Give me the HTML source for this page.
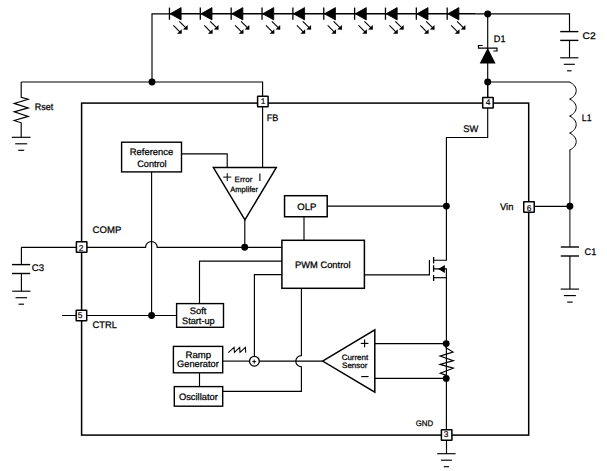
<!DOCTYPE html>
<html><head><meta charset="utf-8"><style>.f{fill:#000;stroke:none}
.pin{fill:#fff}
.pn{font-family:"Liberation Sans",sans-serif;font-size:8.4px;text-rendering:geometricPrecision;text-anchor:middle;fill:#000;stroke:#000;stroke-width:0.2px}
html,body{margin:0;padding:0;background:#fff;overflow:hidden}
svg{display:block}</style></head>
<body>
<svg width="607" height="471" viewBox="0 0 607 471">
<rect width="607" height="471" fill="#fff"/>
<g stroke="#000" stroke-width="1.15" fill="none" stroke-linecap="butt">
<!-- top LED wire -->
<polyline points="152,82 152,13.8 169.5,13.8" stroke="#000"/>
<line x1="169.5" y1="13.8" x2="475" y2="13.8" stroke-width="1.45" stroke="#000"/>
<polyline points="475,13.8 569.5,13.8 569.5,31.6"/>
<line x1="169.45" y1="7.6" x2="169.45" y2="19.8" stroke-width="1.3"/>
<polygon points="170.05,13.8 181.15,7.6 181.15,19.9" fill="#000" stroke="#000" stroke-width="0.8" stroke-linejoin="bevel"/>
<line x1="173.40" y1="25.4" x2="179.80" y2="31.80" stroke-width="1.1"/>
<polygon points="181.80,33.8 177.00,33.70 181.70,29.20" class="f"/>
<line x1="179.30" y1="21.4" x2="185.70" y2="27.70" stroke-width="1.1"/>
<polygon points="187.70,29.7 182.90,29.60 187.60,25.10" class="f"/>
<line x1="200.31" y1="7.6" x2="200.31" y2="19.8" stroke-width="1.3"/>
<polygon points="200.91,13.8 212.01,7.6 212.01,19.9" fill="#000" stroke="#000" stroke-width="0.8" stroke-linejoin="bevel"/>
<line x1="204.26" y1="25.4" x2="210.66" y2="31.80" stroke-width="1.1"/>
<polygon points="212.66,33.8 207.86,33.70 212.56,29.20" class="f"/>
<line x1="210.16" y1="21.4" x2="216.56" y2="27.70" stroke-width="1.1"/>
<polygon points="218.56,29.7 213.76,29.60 218.46,25.10" class="f"/>
<line x1="231.17" y1="7.6" x2="231.17" y2="19.8" stroke-width="1.3"/>
<polygon points="231.77,13.8 242.87,7.6 242.87,19.9" fill="#000" stroke="#000" stroke-width="0.8" stroke-linejoin="bevel"/>
<line x1="235.12" y1="25.4" x2="241.52" y2="31.80" stroke-width="1.1"/>
<polygon points="243.52,33.8 238.72,33.70 243.42,29.20" class="f"/>
<line x1="241.02" y1="21.4" x2="247.42" y2="27.70" stroke-width="1.1"/>
<polygon points="249.42,29.7 244.62,29.60 249.32,25.10" class="f"/>
<line x1="262.03" y1="7.6" x2="262.03" y2="19.8" stroke-width="1.3"/>
<polygon points="262.63,13.8 273.73,7.6 273.73,19.9" fill="#000" stroke="#000" stroke-width="0.8" stroke-linejoin="bevel"/>
<line x1="265.98" y1="25.4" x2="272.38" y2="31.80" stroke-width="1.1"/>
<polygon points="274.38,33.8 269.58,33.70 274.28,29.20" class="f"/>
<line x1="271.88" y1="21.4" x2="278.28" y2="27.70" stroke-width="1.1"/>
<polygon points="280.28,29.7 275.48,29.60 280.18,25.10" class="f"/>
<line x1="292.89" y1="7.6" x2="292.89" y2="19.8" stroke-width="1.3"/>
<polygon points="293.49,13.8 304.59,7.6 304.59,19.9" fill="#000" stroke="#000" stroke-width="0.8" stroke-linejoin="bevel"/>
<line x1="296.84" y1="25.4" x2="303.24" y2="31.80" stroke-width="1.1"/>
<polygon points="305.24,33.8 300.44,33.70 305.14,29.20" class="f"/>
<line x1="302.74" y1="21.4" x2="309.14" y2="27.70" stroke-width="1.1"/>
<polygon points="311.14,29.7 306.34,29.60 311.04,25.10" class="f"/>
<line x1="323.75" y1="7.6" x2="323.75" y2="19.8" stroke-width="1.3"/>
<polygon points="324.35,13.8 335.45,7.6 335.45,19.9" fill="#000" stroke="#000" stroke-width="0.8" stroke-linejoin="bevel"/>
<line x1="327.70" y1="25.4" x2="334.10" y2="31.80" stroke-width="1.1"/>
<polygon points="336.10,33.8 331.30,33.70 336.00,29.20" class="f"/>
<line x1="333.60" y1="21.4" x2="340.00" y2="27.70" stroke-width="1.1"/>
<polygon points="342.00,29.7 337.20,29.60 341.90,25.10" class="f"/>
<line x1="354.61" y1="7.6" x2="354.61" y2="19.8" stroke-width="1.3"/>
<polygon points="355.21,13.8 366.31,7.6 366.31,19.9" fill="#000" stroke="#000" stroke-width="0.8" stroke-linejoin="bevel"/>
<line x1="358.56" y1="25.4" x2="364.96" y2="31.80" stroke-width="1.1"/>
<polygon points="366.96,33.8 362.16,33.70 366.86,29.20" class="f"/>
<line x1="364.46" y1="21.4" x2="370.86" y2="27.70" stroke-width="1.1"/>
<polygon points="372.86,29.7 368.06,29.60 372.76,25.10" class="f"/>
<line x1="385.47" y1="7.6" x2="385.47" y2="19.8" stroke-width="1.3"/>
<polygon points="386.07,13.8 397.17,7.6 397.17,19.9" fill="#000" stroke="#000" stroke-width="0.8" stroke-linejoin="bevel"/>
<line x1="389.42" y1="25.4" x2="395.82" y2="31.80" stroke-width="1.1"/>
<polygon points="397.82,33.8 393.02,33.70 397.72,29.20" class="f"/>
<line x1="395.32" y1="21.4" x2="401.72" y2="27.70" stroke-width="1.1"/>
<polygon points="403.72,29.7 398.92,29.60 403.62,25.10" class="f"/>
<line x1="416.33" y1="7.6" x2="416.33" y2="19.8" stroke-width="1.3"/>
<polygon points="416.93,13.8 428.03,7.6 428.03,19.9" fill="#000" stroke="#000" stroke-width="0.8" stroke-linejoin="bevel"/>
<line x1="420.28" y1="25.4" x2="426.68" y2="31.80" stroke-width="1.1"/>
<polygon points="428.68,33.8 423.88,33.70 428.58,29.20" class="f"/>
<line x1="426.18" y1="21.4" x2="432.58" y2="27.70" stroke-width="1.1"/>
<polygon points="434.58,29.7 429.78,29.60 434.48,25.10" class="f"/>
<line x1="447.19" y1="7.6" x2="447.19" y2="19.8" stroke-width="1.3"/>
<polygon points="447.79,13.8 458.89,7.6 458.89,19.9" fill="#000" stroke="#000" stroke-width="0.8" stroke-linejoin="bevel"/>
<line x1="451.14" y1="25.4" x2="457.54" y2="31.80" stroke-width="1.1"/>
<polygon points="459.54,33.8 454.74,33.70 459.44,29.20" class="f"/>
<line x1="457.04" y1="21.4" x2="463.44" y2="27.70" stroke-width="1.1"/>
<polygon points="465.44,29.7 460.64,29.60 465.34,25.10" class="f"/>
<!-- C2 -->
<line x1="560.2" y1="31.6" x2="578.4" y2="31.6" stroke-width="1.4"/>
<line x1="560.2" y1="40.4" x2="578.4" y2="40.4" stroke-width="1.4"/>
<line x1="569.5" y1="40.4" x2="569.5" y2="57.8"/>
<line x1="560.1999999999999" y1="57.8" x2="578.4" y2="57.8"/><line x1="563.8" y1="64.3" x2="574.8" y2="64.3"/><line x1="567.05" y1="70.8" x2="571.55" y2="70.8"/>
<!-- D1 -->
<line x1="487.7" y1="14" x2="487.7" y2="97"/>
<polygon points="487.7,48.1 479.7,63.6 495.6,63.6" class="f"/>
<polyline points="482.7,45.5 478.5,45.5 478.5,48.1 497,48.1 497,51 493.4,51" stroke-width="1.2"/>
<!-- L1 -->
<polyline points="487.7,82 569.8,82"/>
<path stroke-width="1" d="M569.6,82.1 c8.8,4 8.8,13 0,17 c8.8,4 8.8,13 0,17 c8.8,4 8.8,13 0,17 c8.8,4 8.8,13 0,17 L569.9,150.1 L569.9,247"/>
<!-- C1 -->
<line x1="560.8" y1="247" x2="579" y2="247" stroke-width="1.4"/>
<line x1="560.8" y1="256" x2="579" y2="256" stroke-width="1.4"/>
<line x1="569.9" y1="256" x2="569.9" y2="289.1"/>
<line x1="560.6999999999999" y1="289.1" x2="579.1" y2="289.1"/><line x1="563.9" y1="295.6" x2="575.9" y2="295.6"/><line x1="567.15" y1="302.1" x2="572.65" y2="302.1"/>
<line x1="534.7" y1="206.3" x2="569.9" y2="206.3"/>
<!-- Rset -->
<polyline points="21.2,82 262.6,82 262.6,167.6"/>
<polyline points="21.2,82 21.2,97.2 28.2,99.2 14.2,103.4 28.2,107.9 14.2,111.9 28.2,116.4 14.2,120.5 21.2,122.8 21.2,137.3"/>
<line x1="11.799999999999999" y1="137.3" x2="30.6" y2="137.3"/><line x1="15.2" y1="143.8" x2="27.2" y2="143.8"/><line x1="18.2" y1="150.3" x2="24.2" y2="150.3"/>
<!-- main rect -->
<rect x="81.6" y="103.1" width="447.1" height="332" stroke="#000" stroke-width="1.5"/>
<!-- reference control -->
<rect x="121.6" y="142.2" width="59.9" height="29.7" stroke-width="1.4"/>
<polyline points="182,153.9 227.2,153.9 227.2,167.6"/>
<line x1="151.6" y1="171.9" x2="151.6" y2="315.5"/>
<!-- error amp -->
<polygon points="213.4,167.6 276.3,167.6 244.9,219.9" stroke-width="1.5"/>
<line x1="223.2" y1="177.1" x2="231.3" y2="177.1" stroke-width="1"/>
<line x1="227.25" y1="173.2" x2="227.25" y2="181" stroke-width="1"/>
<line x1="259.9" y1="173.4" x2="259.9" y2="180.9" stroke-width="1.1"/>
<line x1="244.8" y1="219.9" x2="244.8" y2="247.3"/>
<!-- COMP -->
<path d="M21.4,247.3 L145.6,247.3 A5.8,5.8 0 0 1 157.2,247.3 L281.9,247.3" stroke-width="1.15"/>
<!-- C3 -->
<line x1="21.4" y1="247.3" x2="21.4" y2="264.6"/>
<line x1="12" y1="264.6" x2="30.2" y2="264.6" stroke-width="1.4"/>
<line x1="12" y1="273.5" x2="30.2" y2="273.5" stroke-width="1.4"/>
<line x1="21.4" y1="273.5" x2="21.4" y2="291.2"/>
<line x1="12.200000000000001" y1="291.2" x2="30.4" y2="291.2"/><line x1="15.55" y1="297.7" x2="27.05" y2="297.7"/><line x1="18.55" y1="304.2" x2="24.05" y2="304.2"/>
<!-- CTRL -->
<line x1="62" y1="315.5" x2="176.6" y2="315.5"/>
<!-- soft start -->
<rect x="176.6" y="303.6" width="46.9" height="23.7" stroke-width="1.4"/>
<polyline points="199.5,303.6 199.5,261.1 281.9,261.1"/>
<polyline points="254.4,356.3 254.4,274.6 281.9,274.6"/>
<!-- PWM -->
<rect x="281.9" y="240.3" width="82.5" height="48" stroke-width="1.5"/>
<rect x="284.55" y="195.7" width="42.65" height="21.05" stroke-width="1.5"/>
<line x1="304" y1="216.9" x2="304" y2="240.3"/>
<line x1="327.2" y1="206.1" x2="446.4" y2="206.1"/>
<!-- mosfet -->
<polyline points="364.4,274.8 429.4,274.8 429.4,260"/>
<line x1="433.6" y1="257" x2="433.6" y2="263.4" stroke-width="1.3"/>
<line x1="433.6" y1="265.3" x2="433.6" y2="271.8" stroke-width="1.3"/>
<line x1="433.6" y1="275" x2="433.6" y2="281" stroke-width="1.3"/>
<polyline points="487.7,108 487.7,137.5 446.4,137.5 446.4,260.2 433.6,260.2"/>
<polyline points="433.6,268.9 446.4,268.9 446.4,434.9"/>
<line x1="433.6" y1="277.7" x2="446.4" y2="277.7"/>
<polygon points="438.2,268.9 444.9,264.9 444.9,273" class="f"/>
<!-- current sensor -->
<polygon points="322.6,361.1 374.8,329.8 374.8,392.2" stroke-width="1.5"/>
<line x1="374.7" y1="343.6" x2="446.4" y2="343.6"/>
<line x1="374.7" y1="378.4" x2="446.4" y2="378.4"/>
<polyline points="446.2,343.6 446,347.8 453,352 440,356.1 453.3,360.6 440,364.4 453.3,368.2 440.3,373.3 446,375.2 446.2,378.4"/>
<line x1="360.8" y1="343.4" x2="368.4" y2="343.4"/>
<line x1="364.6" y1="339.6" x2="364.6" y2="347.2"/>
<line x1="361.2" y1="376.6" x2="368.6" y2="376.6"/>
<!-- ramp / osc -->
<rect x="173.4" y="346.4" width="49.3" height="26.4" stroke-width="1.4"/>
<rect x="174.3" y="386.6" width="48.4" height="19.6" stroke-width="1.4"/>
<line x1="199.5" y1="373.2" x2="199.5" y2="386.4"/>
<line x1="222.7" y1="361.1" x2="249.5" y2="361.1"/>
<circle cx="254.4" cy="361.2" r="4.9" stroke-width="1.3"/>
<line x1="259.3" y1="361.1" x2="322.6" y2="361.1"/>
<path d="M301.4,288 L301.4,355.6 A5.6,5.6 0 0 0 301.4,366.8 L301.4,391.3 L222.7,391.3"/>
<polyline points="228.3,352.7 234.1,347.4 234.4,352.4 239.7,347.4 240,352.4 245.4,347.4 245.7,352.7" stroke-width="1.05"/>
<line x1="252.2" y1="361.6" x2="256.2" y2="361.6" stroke-width="0.9"/>
<line x1="254.2" y1="359.6" x2="254.2" y2="363.6" stroke-width="1"/>
<!-- GND -->
<line x1="446.5" y1="440.9" x2="446.5" y2="453.7"/>
<line x1="437.2" y1="453.7" x2="455.59999999999997" y2="453.7"/><line x1="440.9" y1="460.2" x2="451.9" y2="460.2"/><line x1="443.75" y1="466.7" x2="449.04999999999995" y2="466.7"/>
<line x1="487.7" y1="82" x2="487.7" y2="97"/>
</g>
<g fill="#000" stroke="none">
<circle cx="152" cy="82" r="3.45" class="f"/>
<circle cx="487.7" cy="14" r="3.45" class="f"/>
<circle cx="487.7" cy="82" r="3.45" class="f"/>
<circle cx="244.7" cy="247.3" r="3.45" class="f"/>
<circle cx="151.6" cy="315.5" r="3.45" class="f"/>
<circle cx="446.4" cy="206.1" r="3.45" class="f"/>
<circle cx="446.2" cy="343.6" r="3.45" class="f"/>
<circle cx="446.2" cy="378.4" r="3.45" class="f"/>
<circle cx="569.9" cy="206.3" r="3.45" class="f"/>
</g>
<g stroke="#000" stroke-width="1.5">
<rect x="257.60" y="96.30" width="10.5" height="10.5" rx="0.3" class="pin"/><text x="263.2" y="103.9" class="pn">1</text>
<rect x="482.70" y="97.50" width="10.5" height="10.5" rx="0.3" class="pin"/><text x="488.2" y="104.9" class="pn">4</text>
<rect x="76.40" y="241.80" width="10.5" height="10.5" rx="0.3" class="pin"/><text x="81.15" y="250.7" class="pn">2</text>
<rect x="76.20" y="310.30" width="10.5" height="10.5" rx="0.3" class="pin"/><text x="80.05" y="318.3" class="pn">5</text>
<rect x="523.75" y="201.70" width="10.5" height="10.5" rx="0.3" class="pin"/><text x="529.2" y="211" class="pn">6</text>
<rect x="441.40" y="429.70" width="10.5" height="10.5" rx="0.3" class="pin"/><text x="446.1" y="436.9" class="pn">3</text>
</g>
<g font-family="'Liberation Sans', sans-serif" fill="#000" stroke="#000" stroke-width="0.25" text-rendering="geometricPrecision">
<text transform="translate(34.73,109.80) scale(0.946,1)" font-size="9.5">Rset</text>
<text transform="translate(266.77,120.75) scale(0.956,1)" font-size="9.5">FB</text>
<text transform="translate(463.20,132.10) scale(0.985,1)" font-size="9.5">SW</text>
<text transform="translate(493.82,41.60) scale(0.961,1)" font-size="9.5">D1</text>
<text transform="translate(582.53,38.90) scale(1.079,1)" font-size="9.5">C2</text>
<text transform="translate(581.75,120.70) scale(0.923,1)" font-size="9.5">L1</text>
<text transform="translate(499.96,209.75) scale(0.990,1)" font-size="9.5">Vin</text>
<text transform="translate(584.60,255.00) scale(0.963,1)" font-size="9.5">C1</text>
<text transform="translate(31.87,271.00) scale(1.017,1)" font-size="9.5">C3</text>
<text transform="translate(92.58,232.75) scale(1.006,1)" font-size="9.5">COMP</text>
<text transform="translate(92.59,327.75) scale(0.986,1)" font-size="9.5">CTRL</text>
<text transform="translate(415.68,425.75) scale(0.979,1)" font-size="8.0">GND</text>
<text transform="translate(129.80,155.00) scale(1.005,1)" font-size="9.35">Reference</text>
<text transform="translate(137.30,166.60) scale(0.973,1)" font-size="9.35">Control</text>
<text transform="translate(297.32,210.00) scale(1.027,1)" font-size="9.35">OLP</text>
<text transform="translate(295.10,268.20) scale(0.997,1)" font-size="9.35">PWM Control</text>
<text transform="translate(189.69,313.70) scale(1.001,1)" font-size="9.35">Soft</text>
<text transform="translate(182.00,324.00) scale(0.983,1)" font-size="9.35">Start-up</text>
<text transform="translate(185.58,358.20) scale(1.028,1)" font-size="9.35">Ramp</text>
<text transform="translate(177.09,366.90) scale(0.992,1)" font-size="9.35">Generator</text>
<text transform="translate(178.88,399.80) scale(1.002,1)" font-size="9.35">Oscillator</text>
<text transform="translate(234.61,181.50) scale(1.022,1)" font-size="7.8">Error</text>
<text transform="translate(230.25,192.00) scale(0.971,1)" font-size="7.8">Amplifer</text>
<text transform="translate(341.67,359.80) scale(1.018,1)" font-size="7.8">Current</text>
<text transform="translate(342.07,367.70) scale(1.026,1)" font-size="7.8">Sensor</text>
</g>
</svg></body></html>
